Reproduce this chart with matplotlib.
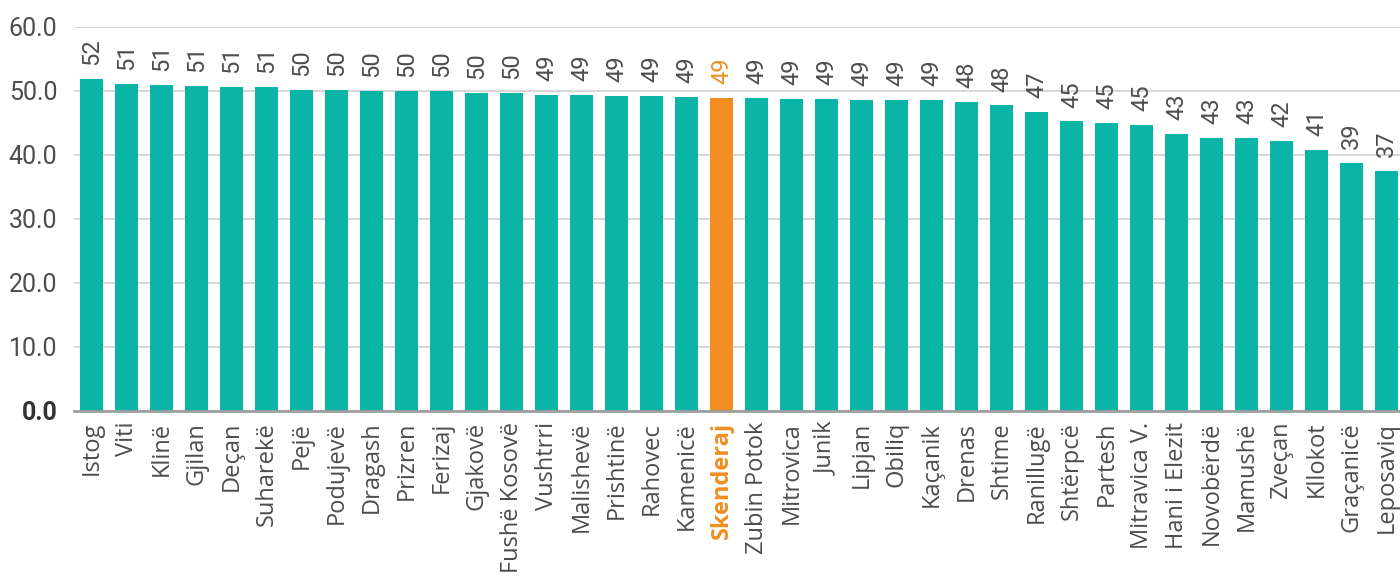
import matplotlib
matplotlib.use("Agg")
import matplotlib.pyplot as plt

municipalities = ["Istog", "Viti", "Klinë", "Gjilan", "Deçan", "Suharekë", "Pejë",
                  "Podujevë", "Dragash", "Prizren", "Ferizaj", "Gjakovë", "Fushë Kosovë",
                  "Vushtrri", "Malishevë", "Prishtinë", "Rahovec", "Kamenicë", "Skenderaj",
                  "Zubin Potok", "Mitrovica", "Junik", "Lipjan", "Obiliq", "Kaçanik",
                  "Drenas", "Shtime", "Ranillugë", "Shtërpcë", "Partesh", "Mitravica V.",
                  "Hani i Elezit", "Novobërdë", "Mamushë", "Zveçan", "Kllokot",
                  "Graçanicë", "Leposaviq"]
scores = [51.8, 51.0, 50.9, 50.7, 50.6, 50.6, 50.1,
          50.1, 49.95, 49.95, 49.95, 49.6, 49.6,
          49.4, 49.3, 49.2, 49.2, 49.0, 48.9,
          48.9, 48.7, 48.7, 48.6, 48.6, 48.6,
          48.2, 47.7, 46.7, 45.2, 44.95, 44.6,
          43.2, 42.6, 42.55, 42.1, 40.7,
          38.7, 37.4]
highlight = "Skenderaj"
yticks = [0, 10, 20, 30, 40, 50, 60]

teal = "#0BB5A6"
orange = "#F08E22"
grey_txt = "#4D4D4D"

plt.rcParams['font.family'] = ['Open Sans', 'DejaVu Sans']

fig = plt.figure(figsize=(14, 5.79), dpi=100)
ax = fig.add_axes([0.0529, 0.2907, 0.95, 0.6632])

x = list(range(len(municipalities)))
colors = [orange if m == highlight else teal for m in municipalities]
bars = ax.bar(x, scores, width=0.66, color=colors, zorder=2)

for xi, v, m in zip(x, scores, municipalities):
    hl = m == highlight
    ax.annotate("{:.0f}".format(v), (xi, v), xytext=(0, 10), textcoords="offset points",
                rotation=90, ha="center", va="bottom", fontsize=17,
                family=['Roboto', 'DejaVu Sans'],
                color=orange if hl else grey_txt, annotation_clip=False)

ax.set_xlim(-0.5, len(municipalities) - 0.5)
ax.set_ylim(0, 60)
ax.set_yticks(yticks)
ax.set_yticklabels(["{:.1f}".format(t) for t in yticks], family=['Roboto', 'DejaVu Sans'],
                   fontsize=18, color=grey_txt)
ax.get_yticklabels()[0].set_fontweight("bold")
ax.get_yticklabels()[0].set_color("#333333")

ax.set_xticks(x)
ax.set_xticklabels(municipalities, rotation=90, fontsize=17, color=grey_txt)
for lbl in ax.get_xticklabels():
    if lbl.get_text() == highlight:
        lbl.set_color(orange)
        lbl.set_fontweight("bold")

ax.tick_params(axis="both", length=0)
ax.tick_params(axis="y", pad=12)
ax.tick_params(axis="x", pad=8)
ax.yaxis.grid(True, color="#D3D3D3", linewidth=1.3, zorder=0)
ax.set_axisbelow(True)
for s in ["top", "right", "left"]:
    ax.spines[s].set_visible(False)
ax.spines["bottom"].set_color("#9E9E9E")
ax.spines["bottom"].set_linewidth(2)
ax.spines["bottom"].set_zorder(3)

fig.savefig("out.png", dpi=100)
